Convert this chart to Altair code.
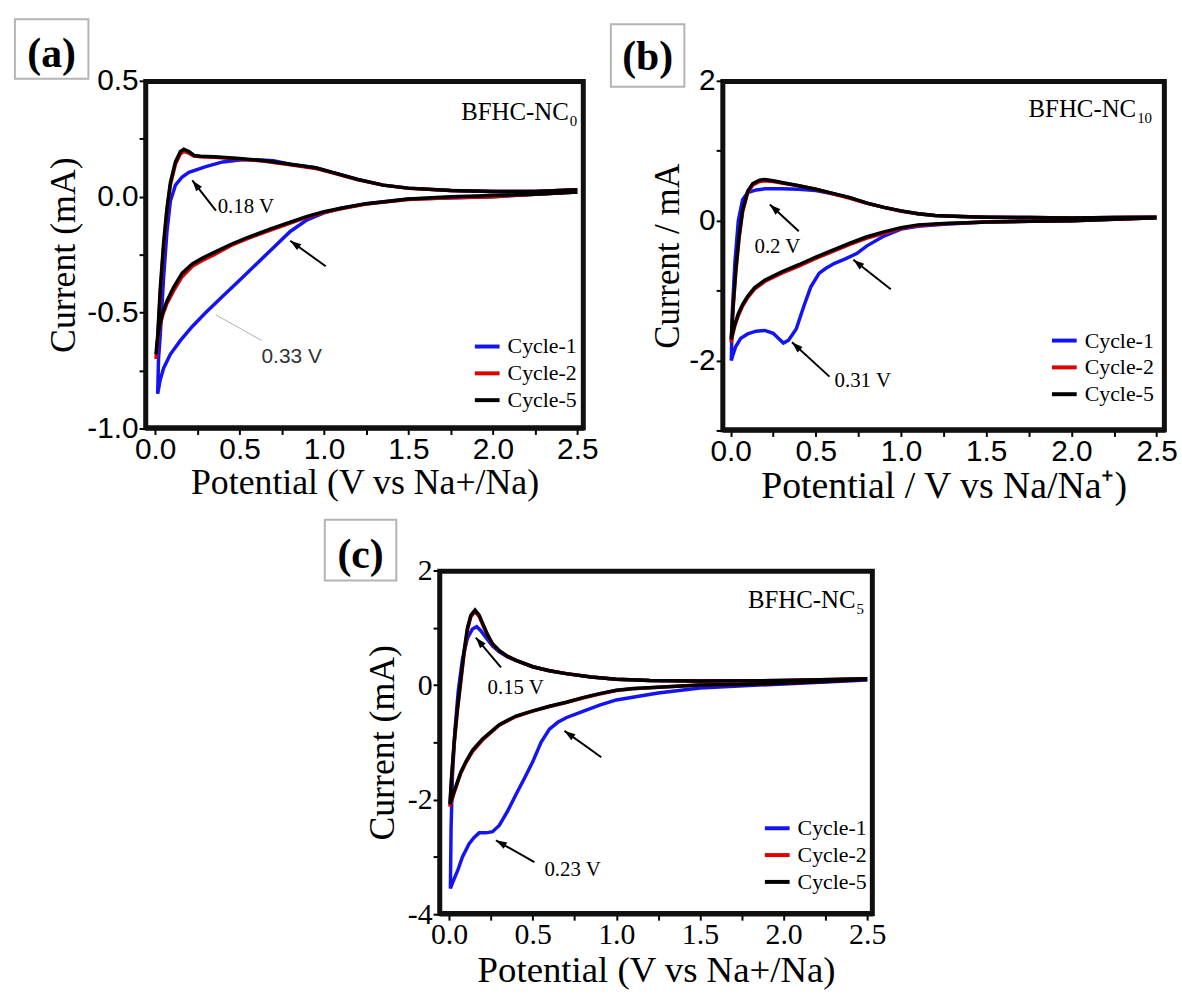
import math
import altair as alt
import pandas as pd

CYCLES = ["Cycle-1", "Cycle-2", "Cycle-5"]
COLORS = ["#1414f0", "#e00000", "#000000"]

X_TICKS = [0.0, 0.25, 0.5, 0.75, 1.0, 1.25, 1.5, 1.75, 2.0, 2.25, 2.5]
A_Y_TICKS = [-1.0, -0.75, -0.5, -0.25, 0.0, 0.25, 0.5]
B_Y_TICKS = [-3, -2, -1, 0, 1, 2]
C_Y_TICKS = [-4, -3, -2, -1, 0, 1, 2]

# ---------------- Panel (a): BFHC-NC0 ----------------
A_CYCLE1 = [[2.5, 0.02], [2.0, 0.0], [1.5, -0.01], [1.25, -0.03], [1.1, -0.05], [1.0, -0.07],
            [0.9, -0.1], [0.8, -0.15], [0.7, -0.22], [0.6, -0.29], [0.5, -0.36], [0.4, -0.43],
            [0.3, -0.5], [0.22, -0.56], [0.15, -0.62], [0.09, -0.68], [0.05, -0.74], [0.03, -0.79],
            [0.015, -0.85],
            [0.02, -0.7], [0.03, -0.6], [0.05, -0.35], [0.07, -0.15], [0.09, -0.02], [0.12, 0.05],
            [0.16, 0.085], [0.2, 0.105], [0.3, 0.13], [0.4, 0.15], [0.5, 0.158], [0.6, 0.16],
            [0.7, 0.155], [0.8, 0.14], [0.95, 0.125], [1.05, 0.105], [1.2, 0.075], [1.35, 0.05],
            [1.5, 0.037], [1.75, 0.027], [2.0, 0.022], [2.25, 0.022], [2.5, 0.03]]
A_CYCLE2 = [[2.5, 0.02], [2.25, 0.01], [2.0, 0.0], [1.75, -0.005], [1.5, -0.012], [1.25, -0.032],
            [1.1, -0.052], [1.0, -0.068], [0.9, -0.088], [0.8, -0.114], [0.68, -0.145], [0.55, -0.18],
            [0.45, -0.21], [0.35, -0.25], [0.28, -0.275], [0.22, -0.3], [0.16, -0.345], [0.11, -0.405],
            [0.07, -0.46], [0.045, -0.51], [0.025, -0.57], [0.012, -0.64], [0.005, -0.7],
            [0.015, -0.62], [0.03, -0.42], [0.05, -0.22], [0.07, -0.06], [0.09, 0.05], [0.12, 0.14],
            [0.15, 0.185], [0.17, 0.195], [0.2, 0.188], [0.23, 0.175], [0.27, 0.172], [0.35, 0.17],
            [0.5, 0.163], [0.65, 0.153], [0.8, 0.138], [0.95, 0.122], [1.05, 0.103], [1.2, 0.073],
            [1.35, 0.05], [1.5, 0.036], [1.75, 0.027], [2.0, 0.022], [2.25, 0.022], [2.5, 0.03]]
A_CYCLE5 = [[2.5, 0.02], [2.25, 0.01], [2.0, 0.005], [1.75, 0.0], [1.5, -0.01], [1.25, -0.03],
            [1.1, -0.05], [1.0, -0.065], [0.9, -0.085], [0.8, -0.11], [0.68, -0.14], [0.55, -0.175],
            [0.45, -0.205], [0.35, -0.24], [0.28, -0.265], [0.22, -0.29], [0.16, -0.33], [0.11, -0.39],
            [0.07, -0.45], [0.045, -0.5], [0.025, -0.56], [0.012, -0.62], [0.005, -0.68],
            [0.015, -0.6], [0.03, -0.4], [0.05, -0.2], [0.07, -0.05], [0.09, 0.06], [0.12, 0.15],
            [0.15, 0.195], [0.17, 0.205], [0.2, 0.195], [0.23, 0.178], [0.27, 0.175], [0.35, 0.172],
            [0.5, 0.165], [0.65, 0.155], [0.8, 0.14], [0.95, 0.125], [1.05, 0.105], [1.2, 0.075],
            [1.35, 0.05], [1.5, 0.037], [1.75, 0.027], [2.0, 0.022], [2.25, 0.022], [2.5, 0.03]]
A_TEXTS = [["0.18 V", 0.37, -0.045, "Liberation Serif"], ["0.33 V", 0.63, -0.69, "Liberation Sans"]]
A_ARROWS = [[0.36, -0.06, 0.22, 0.07], [1.01, -0.30, 0.80, -0.19]]
A_LEADERS = [[0.36, -0.51, 0.63, -0.62]]
A_SAMPLE = ["BFHC-NC", "0", 2.45, 0.364]

# ---------------- Panel (b): BFHC-NC10 ----------------
B_CYCLE1 = [[2.5, 0.04], [2.0, 0.0], [1.5, -0.02], [1.25, -0.05], [1.1, -0.08], [1.0, -0.12],
            [0.9, -0.22], [0.8, -0.36], [0.74, -0.47], [0.67, -0.55], [0.61, -0.61], [0.56, -0.68],
            [0.52, -0.75], [0.47, -0.95], [0.43, -1.22], [0.385, -1.55], [0.34, -1.71], [0.31, -1.75],
            [0.28, -1.68], [0.25, -1.61], [0.2, -1.57], [0.15, -1.58], [0.1, -1.62], [0.06, -1.68],
            [0.03, -1.8], [0.012, -1.93], [0.004, -2.0],
            [0.01, -1.3], [0.025, -0.6], [0.045, 0.0], [0.07, 0.3], [0.1, 0.4], [0.15, 0.44],
            [0.2, 0.455], [0.3, 0.455], [0.4, 0.45], [0.5, 0.43], [0.6, 0.385], [0.7, 0.33],
            [0.8, 0.25], [0.9, 0.19], [1.0, 0.14], [1.1, 0.1], [1.2, 0.075], [1.35, 0.06],
            [1.5, 0.05], [1.75, 0.045], [2.0, 0.04], [2.25, 0.045], [2.5, 0.05]]
B_CYCLE2 = [[2.5, 0.04], [2.25, 0.02], [2.0, 0.0], [1.75, -0.01], [1.5, -0.02], [1.25, -0.045],
            [1.1, -0.07], [1.0, -0.11], [0.9, -0.18], [0.8, -0.25], [0.7, -0.34], [0.6, -0.44],
            [0.5, -0.54], [0.4, -0.65], [0.3, -0.75], [0.2, -0.87], [0.14, -0.98], [0.1, -1.1],
            [0.07, -1.22], [0.045, -1.36], [0.025, -1.5], [0.01, -1.65], [0.003, -1.74],
            [0.015, -1.25], [0.03, -0.75], [0.05, -0.25], [0.07, 0.12], [0.1, 0.4], [0.13, 0.51],
            [0.17, 0.56], [0.2, 0.57], [0.25, 0.56], [0.3, 0.54], [0.4, 0.5], [0.5, 0.45],
            [0.6, 0.385], [0.7, 0.32], [0.8, 0.25], [0.9, 0.19], [1.0, 0.135], [1.1, 0.1],
            [1.2, 0.075], [1.35, 0.06], [1.5, 0.05], [1.75, 0.045], [2.0, 0.04], [2.25, 0.045], [2.5, 0.05]]
B_CYCLE5 = [[2.5, 0.04], [2.25, 0.02], [2.0, 0.0], [1.75, -0.01], [1.5, -0.02], [1.25, -0.04],
            [1.1, -0.06], [1.0, -0.1], [0.9, -0.16], [0.8, -0.23], [0.7, -0.32], [0.6, -0.42],
            [0.5, -0.52], [0.4, -0.63], [0.3, -0.73], [0.2, -0.85], [0.14, -0.96], [0.1, -1.08],
            [0.07, -1.2], [0.045, -1.33], [0.025, -1.48], [0.01, -1.62], [0.003, -1.7],
            [0.015, -1.2], [0.03, -0.7], [0.05, -0.2], [0.07, 0.15], [0.1, 0.42], [0.13, 0.53],
            [0.17, 0.58], [0.2, 0.59], [0.25, 0.57], [0.3, 0.545], [0.4, 0.5], [0.5, 0.45],
            [0.6, 0.39], [0.7, 0.33], [0.8, 0.25], [0.9, 0.19], [1.0, 0.14], [1.1, 0.1],
            [1.2, 0.075], [1.35, 0.06], [1.5, 0.05], [1.75, 0.045], [2.0, 0.04], [2.25, 0.045], [2.5, 0.05]]
B_TEXTS = [["0.2 V", 0.14, -0.375, "Liberation Serif"], ["0.31 V", 0.61, -2.3, "Liberation Serif"]]
B_ARROWS = [[0.40, -0.15, 0.23, 0.23], [0.94, -0.98, 0.72, -0.56], [0.58, -2.23, 0.36, -1.74]]
B_LEADERS = []
B_SAMPLE = ["BFHC-NC", "10", 2.38, 1.6]

# ---------------- Panel (c): BFHC-NC5 ----------------
C_CYCLE1 = [[2.5, 0.09], [2.0, 0.02], [1.5, -0.05], [1.25, -0.14], [1.0, -0.26], [0.9, -0.35],
            [0.8, -0.46], [0.7, -0.57], [0.65, -0.65], [0.6, -0.77], [0.55, -1.0], [0.5, -1.34],
            [0.45, -1.63], [0.4, -1.91], [0.35, -2.2], [0.3, -2.45], [0.26, -2.56], [0.22, -2.58],
            [0.18, -2.58], [0.15, -2.66], [0.12, -2.77], [0.08, -3.0], [0.05, -3.25], [0.025, -3.42],
            [0.008, -3.55],
            [0.012, -2.5], [0.02, -1.6], [0.035, -0.8], [0.055, -0.1], [0.08, 0.45], [0.11, 0.82],
            [0.14, 0.98], [0.165, 1.02], [0.19, 0.95], [0.22, 0.83], [0.26, 0.68], [0.3, 0.58],
            [0.35, 0.49], [0.4, 0.43], [0.5, 0.32], [0.6, 0.25], [0.7, 0.2], [0.85, 0.14],
            [1.0, 0.1], [1.2, 0.08], [1.5, 0.07], [2.0, 0.08], [2.5, 0.1]]
C_CYCLE2 = [[2.5, 0.1], [2.25, 0.06], [2.0, 0.03], [1.75, 0.01], [1.5, 0.0], [1.25, -0.04],
            [1.1, -0.065], [1.0, -0.095], [0.9, -0.155], [0.8, -0.225], [0.7, -0.305], [0.6, -0.375],
            [0.5, -0.455], [0.4, -0.55], [0.3, -0.7], [0.2, -0.96], [0.14, -1.16], [0.1, -1.36],
            [0.07, -1.54], [0.05, -1.71], [0.025, -1.93], [0.005, -2.12],
            [0.015, -1.65], [0.03, -1.05], [0.05, -0.45], [0.07, 0.05], [0.09, 0.55], [0.11, 0.96],
            [0.13, 1.19], [0.155, 1.28], [0.18, 1.2], [0.2, 1.06], [0.23, 0.87], [0.26, 0.71],
            [0.3, 0.6], [0.35, 0.5], [0.4, 0.43], [0.5, 0.32], [0.6, 0.25], [0.7, 0.2],
            [0.85, 0.14], [1.0, 0.1], [1.2, 0.08], [1.5, 0.07], [2.0, 0.08], [2.5, 0.11]]
C_CYCLE5 = [[2.5, 0.1], [2.25, 0.06], [2.0, 0.03], [1.75, 0.01], [1.5, 0.0], [1.25, -0.04],
            [1.1, -0.06], [1.0, -0.09], [0.9, -0.15], [0.8, -0.22], [0.7, -0.3], [0.6, -0.37],
            [0.5, -0.45], [0.4, -0.54], [0.3, -0.69], [0.2, -0.94], [0.14, -1.14], [0.1, -1.34],
            [0.07, -1.52], [0.05, -1.69], [0.025, -1.9], [0.005, -2.08],
            [0.015, -1.6], [0.03, -1.0], [0.05, -0.4], [0.07, 0.1], [0.09, 0.6], [0.11, 1.0],
            [0.13, 1.22], [0.155, 1.31], [0.18, 1.22], [0.2, 1.08], [0.23, 0.88], [0.26, 0.72],
            [0.3, 0.6], [0.35, 0.5], [0.4, 0.43], [0.5, 0.32], [0.6, 0.25], [0.7, 0.2],
            [0.85, 0.14], [1.0, 0.1], [1.2, 0.08], [1.5, 0.07], [2.0, 0.08], [2.5, 0.11]]
C_TEXTS = [["0.15 V", 0.23, -0.06, "Liberation Serif"], ["0.23 V", 0.57, -3.23, "Liberation Serif"]]
C_ARROWS = [[0.31, 0.31, 0.16, 0.83], [0.91, -1.26, 0.69, -0.8], [0.51, -3.09, 0.28, -2.71]]
C_LEADERS = []
C_SAMPLE = ["BFHC-NC", "5", 2.43, 1.49]

PANEL_LABELS = ["(a)", "(b)", "(c)"]
X_TITLES = ["Potential (V vs Na+/Na)", "Potential / V vs Na/Na\u207a)", "Potential (V vs Na+/Na)"]
Y_TITLES = ["Current (mA)", "Current / mA", "Current (mA)"]

SERIF = "Liberation Serif"
SANS = "Liberation Sans"
HEAD = "M0,0L-0.6,1.8L0.6,1.8Z"


def cycles_df(c1, c2, c5):
    rows = []
    for name, pts in zip(CYCLES, [c1, c2, c5]):
        for i, (v, c) in enumerate(pts):
            rows.append({"v": v, "c": c, "cycle": name, "i": i})
    return pd.DataFrame(rows)


def panel(c1, c2, c5, texts, arrows, leaders, sample, label, xtitle, ytitle,
          xdom, ydom, yticks, ylabel_expr, tick_font, tick_size, xt_size, yt_size,
          ytitle_pad, xtitle_pad, w, h, legend_xy, box, label_xy):
    sx = w / (xdom[1] - xdom[0])
    sy = h / (ydom[1] - ydom[0])
    df = cycles_df(c1, c2, c5)
    x_lab = ("abs(datum.value*2 - round(datum.value*2)) < 0.001 ? "
             "format(datum.value, '.1f') : ''")
    xenc = alt.X("v:Q", scale=alt.Scale(domain=xdom, nice=False, zero=False),
                 axis=alt.Axis(values=X_TICKS, labelExpr=x_lab, title=xtitle,
                               labelFont=tick_font, labelFontSize=tick_size, labelColor="black",
                               labelPadding=0, labelFlush=False, labelOverlap=False,
                               tickSize=6, tickWidth=2, tickColor="black",
                               domain=True, domainWidth=3.5, domainColor="#101010",
                               grid=False, titleFont=SERIF, titleFontSize=xt_size,
                               titleFontWeight="normal", titleColor="black",
                               titlePadding=xtitle_pad))
    yenc = alt.Y("c:Q", scale=alt.Scale(domain=ydom, nice=False, zero=False),
                 axis=alt.Axis(values=yticks, labelExpr=ylabel_expr, title=ytitle,
                               labelFont=tick_font, labelFontSize=tick_size, labelColor="black",
                               labelPadding=1, labelFlush=False, labelOverlap=False,
                               tickSize=6, tickWidth=2, tickColor="black",
                               domain=True, domainWidth=3.5, domainColor="#101010",
                               grid=False, titleFont=SERIF, titleFontSize=yt_size,
                               titleFontWeight="normal", titleColor="black",
                               titlePadding=ytitle_pad))
    color = alt.Color("cycle:N", scale=alt.Scale(domain=CYCLES, range=COLORS),
                      legend=alt.Legend(orient="none", legendX=legend_xy[0], legendY=legend_xy[1],
                                        title=None, symbolType="stroke", symbolStrokeWidth=4,
                                        symbolSize=620, labelFont=SERIF, labelFontSize=22,
                                        labelColor="black", rowPadding=1, padding=0,
                                        labelOffset=6))
    layers = []
    for k, cyc in enumerate(CYCLES):
        layers.append(
            alt.Chart(df).transform_filter(alt.datum.cycle == cyc)
            .mark_line(strokeWidth=3.5)
            .encode(x=xenc if k == 0 else alt.X("v:Q"),
                    y=yenc if k == 0 else alt.Y("c:Q"),
                    color=color, order="i:Q")
        )
    # plot frame as a closed polyline through the corners of the axis limits
    ix = 1.5 / sx
    iy = 1.5 / sy
    frame = pd.DataFrame({
        "v": [xdom[0] + ix, xdom[1] - ix, xdom[1] - ix, xdom[0] + ix, xdom[0] + ix],
        "c": [ydom[0] + iy, ydom[0] + iy, ydom[1] - iy, ydom[1] - iy, ydom[0] + iy],
        "k": [0, 1, 2, 3, 4],
    })
    layers.append(alt.Chart(frame).mark_line(strokeWidth=3.5, color="#101010",
                                             strokeJoin="miter")
                  .encode(x="v:Q", y="c:Q", order="k:Q"))
    arr = pd.DataFrame(arrows, columns=["v", "c", "v2", "c2"])
    arr["ang"] = [
        (math.degrees(math.atan2((r.v2 - r.v) * sx, (r.c2 - r.c) * sy)) + 360) % 360
        for r in arr.itertuples()
    ]
    layers.append(alt.Chart(arr).mark_rule(strokeWidth=2, color="black")
                  .encode(x="v:Q", y="c:Q", x2="v2:Q", y2="c2:Q"))
    layers.append(alt.Chart(arr).mark_point(shape=HEAD, filled=True, size=150, color="black",
                                            opacity=1, strokeWidth=0)
                  .encode(x="v2:Q", y="c2:Q", angle=alt.Angle("ang:Q", scale=None)))
    if leaders:
        ld = pd.DataFrame(leaders, columns=["v", "c", "v2", "c2"])
        layers.append(alt.Chart(ld).mark_rule(strokeWidth=1, color="#b0b0b0")
                      .encode(x="v:Q", y="c:Q", x2="v2:Q", y2="c2:Q"))
    tdf = pd.DataFrame(texts, columns=["t", "v", "c", "font"])
    for font in tdf["font"].unique():
        sub = tdf[tdf["font"] == font]
        layers.append(alt.Chart(sub).mark_text(align="left", baseline="middle", font=font,
                                               fontSize=21,
                                               color="black" if font == SERIF else "#333333")
                      .encode(x="v:Q", y="c:Q", text="t:N"))
    sdf = pd.DataFrame([sample], columns=["t", "s", "v", "c"])
    layers.append(alt.Chart(sdf).mark_text(align="right", baseline="middle", font=SERIF,
                                           fontSize=25, color="black")
                  .encode(x="v:Q", y="c:Q", text="t:N"))
    layers.append(alt.Chart(sdf).mark_text(align="left", baseline="middle", font=SERIF,
                                           fontSize=15, color="black", dx=1, dy=9)
                  .encode(x="v:Q", y="c:Q", text="s:N"))
    ldf = pd.DataFrame({"t": [label]})
    layers.append(alt.Chart(ldf).mark_rect(fill="transparent", stroke="#b4b4b4",
                                           strokeWidth=2)
                  .encode(x=alt.value(box[0]), x2=alt.value(box[1]),
                          y=alt.value(box[2]), y2=alt.value(box[3])))
    layers.append(alt.Chart(ldf).mark_text(font=SERIF, fontSize=42, fontWeight="bold",
                                           color="black", baseline="middle", align="center")
                  .encode(x=alt.value(label_xy[0]), y=alt.value(label_xy[1]), text="t:N"))
    return alt.layer(*layers).properties(width=w, height=h)


def neg_fmt(fmt):
    return ("(datum.value < 0 ? '-' : '') + format(abs(datum.value), '" + fmt + "')")


A_YLAB = ("abs(datum.value*2 - round(datum.value*2)) < 0.001 ? " + neg_fmt(".1f") + " : ''")
EVEN_YLAB = ("abs(datum.value/2 - round(datum.value/2)) < 0.001 ? " + neg_fmt("d") + " : ''")

pa = panel(A_CYCLE1, A_CYCLE2, A_CYCLE5, A_TEXTS, A_ARROWS, A_LEADERS, A_SAMPLE,
           PANEL_LABELS[0], X_TITLES[0], Y_TITLES[0], [-0.06, 2.54], [-1.0, 0.5], A_Y_TICKS,
           A_YLAB, SANS, 30, 36, 36, 4, 1, 442, 350, [330, 253], [-131, -57, -62, -2], [-94, -27])
pb = panel(B_CYCLE1, B_CYCLE2, B_CYCLE5, B_TEXTS, B_ARROWS, B_LEADERS, B_SAMPLE,
           PANEL_LABELS[1], X_TITLES[1], Y_TITLES[1], [-0.05, 2.55], [-3, 2], B_Y_TICKS,
           EVEN_YLAB, SANS, 30, 38, 35, 3, 1, 446, 352, [330, 247], [-112, -38, -57, 6], [-75, -24])
pc = panel(C_CYCLE1, C_CYCLE2, C_CYCLE5, C_TEXTS, C_ARROWS, C_LEADERS, C_SAMPLE,
           PANEL_LABELS[2], X_TITLES[2], Y_TITLES[2], [-0.06, 2.535], [-4, 2], C_Y_TICKS,
           EVEN_YLAB, SERIF, 30, 37, 36, 6, 3, 437, 346, [326, 245], [-115, -43, -51, 10], [-79, -16])

spacer = (alt.Chart(pd.DataFrame({"z": [0]})).mark_point(opacity=0)
          .encode(x=alt.value(0), y=alt.value(0))
          .properties(width=176, height=10, view=alt.ViewBackground(stroke="transparent")))

top = alt.hconcat(pa, pb, spacing=8).resolve_scale(color="independent")
bottom = alt.hconcat(spacer, pc, spacing=0).resolve_scale(color="independent")
chart = (alt.vconcat(top, bottom, spacing=10)
         .resolve_scale(color="independent")
         .properties(padding={"left": 12, "top": 13, "right": 2, "bottom": 2})
         .configure(background="white")
         .configure_view(stroke="#101010", strokeWidth=3.5))

chart.save("out.html", embed_options={"renderer": "svg", "actions": False})
